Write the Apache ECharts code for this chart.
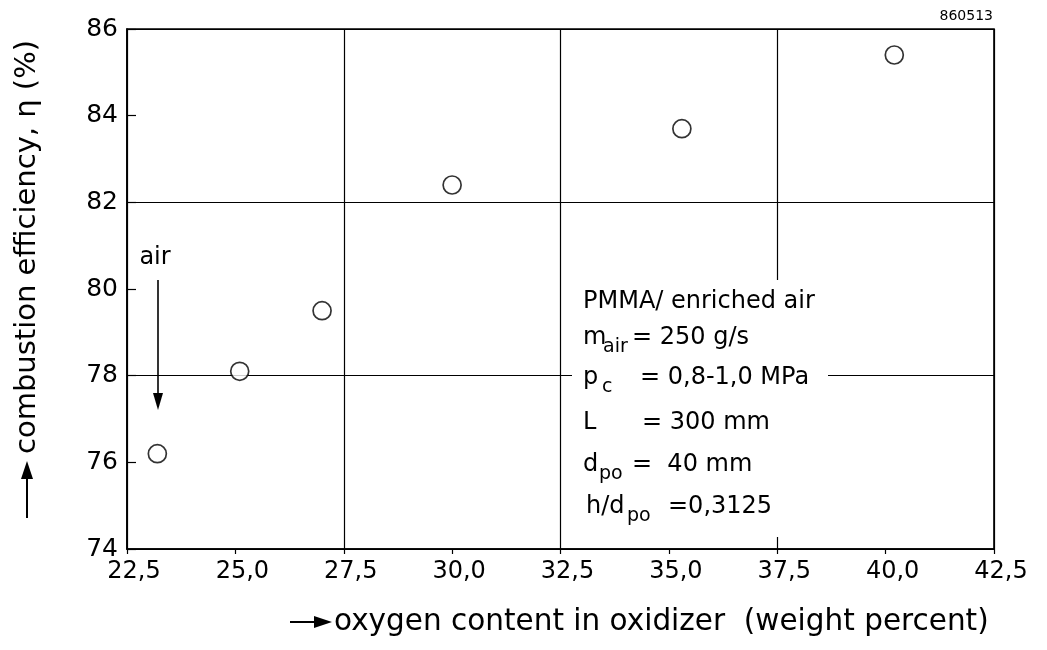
<!DOCTYPE html>
<html><head><meta charset="utf-8">
<script src="https://cdn.jsdelivr.net/npm/echarts@6/dist/echarts.min.js"></script>
<style>html,body{margin:0;padding:0;background:#fff}#c{width:1047px;height:650px}</style>
</head><body><div id="c"></div>
<script>
// ---- data ----
const oxygen = [23.2, 25.1, 27.0, 30.0, 35.3, 40.2];          // weight percent
const efficiency = [76.2, 78.1, 79.5, 82.4, 83.7, 85.4];      // %
const xMin = 22.5, xMax = 42.5, xStep = 2.5, xGridStep = 5;
const yMin = 74, yMax = 86, yStep = 2, yGridStep = 4;
const xTitle = 'oxygen content in oxidizer  (weight percent)';
const yTitle = 'combustion efficiency, \u03B7 (%)';
const figId = '860513';

const F = '"DejaVu Sans", sans-serif';
const chart = echarts.init(document.getElementById('c'), null, {renderer: 'canvas'});

function t(x, y, text, size, align) {
  return {type: 'text', x: x, y: y, z: 60,
    style: {text: text, font: size + 'px ' + F, fill: '#000',
      align: align || 'left', verticalAlign: 'middle'}};
}
const sub = 19, main = 24, dy = 9;
const boxText = [
  t(583, 302, 'PMMA/ enriched air', main),
  t(583, 338, 'm', main), t(603, 338 + dy, 'air', sub), t(632, 338, '= 250 g/s', main),
  t(583, 378, 'p', main), t(602, 378 + dy, 'c', sub), t(640, 378, '= 0,8-1,0 MPa', main),
  t(583, 423, 'L', main), t(642, 423, '= 300 mm', main),
  t(583, 465, 'd', main), t(599, 465 + dy, 'po', sub), t(632, 465, '=  40 mm', main),
  t(586, 507, 'h/d', main), t(627, 507 + dy, 'po', sub), t(668, 507, '=0,3125', main)
];

const option = {
  backgroundColor: '#fff',
  animation: false,
  grid: {left: 127, right: 53, top: 29, bottom: 101, show: true, borderColor: '#000', borderWidth: 1.6,
    containLabel: false, outerBoundsMode: 'none'},
  xAxis: [{
    type: 'value', min: xMin, max: xMax, interval: xStep,
    axisLine: {show: true, lineStyle: {color: '#000', width: 1.6}},
    axisTick: {show: true, inside: false, length: 5, lineStyle: {color: '#000', width: 1.2}},
    axisLabel: {color: '#000', fontSize: 24, fontFamily: F, margin: 11, padding: [0, 0, 0, 14],
      formatter: v => v.toFixed(1).replace('.', ',')},
    splitLine: {show: false}
  }, {
    type: 'value', min: xMin, max: xMax, interval: xGridStep, position: 'top',
    axisLine: {show: false}, axisTick: {show: false}, axisLabel: {show: false},
    splitLine: {show: true, lineStyle: {color: '#000', width: 1.2}}
  }],
  yAxis: [{
    type: 'value', min: yMin, max: yMax, interval: yStep,
    axisLine: {show: true, lineStyle: {color: '#000', width: 1.6}},
    axisTick: {show: true, inside: true, length: 9, lineStyle: {color: '#000', width: 1.2}},
    axisLabel: {color: '#000', fontSize: 25, fontFamily: F, margin: 9},
    splitLine: {show: false}
  }, {
    type: 'value', min: yMin, max: yMax, interval: yGridStep, position: 'right',
    axisLine: {show: false}, axisTick: {show: false}, axisLabel: {show: false},
    splitLine: {show: true, lineStyle: {color: '#000', width: 1.2}}
  }],
  series: [{
    type: 'scatter', xAxisIndex: 0, yAxisIndex: 0, z: 10,
    symbol: 'circle', symbolSize: 18,
    itemStyle: {color: '#fff', borderColor: '#000', borderWidth: 1.7},
    data: oxygen.map((x, i) => [x, efficiency[i]])
  }],
  graphic: [
    {type: 'rect', z: 50, shape: {x: 572, y: 280, width: 256, height: 257}, style: {fill: '#fff'}},
    ...boxText,
    // "air" annotation with down arrow
    t(155, 258, 'air', main, 'center'),
    {type: 'line', z: 60, shape: {x1: 158, y1: 280, x2: 158, y2: 398}, style: {stroke: '#000', lineWidth: 1.6}},
    {type: 'polygon', z: 60, shape: {points: [[153, 393], [163, 393], [158, 410]]}, style: {fill: '#000'}},
    // y-axis title with up arrow
    {type: 'text', z: 60, x: 27, y: 247, rotation: Math.PI / 2,
      style: {text: yTitle, font: '29px ' + F, fill: '#000', align: 'center', verticalAlign: 'middle'}},
    {type: 'line', z: 60, shape: {x1: 27, y1: 518, x2: 27, y2: 475}, style: {stroke: '#000', lineWidth: 2}},
    {type: 'polygon', z: 60, shape: {points: [[21, 479], [33, 479], [27, 461]]}, style: {fill: '#000'}},
    // x-axis title with right arrow
    {type: 'line', z: 60, shape: {x1: 290, y1: 622, x2: 318, y2: 622}, style: {stroke: '#000', lineWidth: 2}},
    {type: 'polygon', z: 60, shape: {points: [[314, 616], [314, 628], [332, 622]]}, style: {fill: '#000'}},
    {type: 'text', z: 60, x: 334, y: 622,
      style: {text: xTitle, font: '29.5px ' + F, fill: '#000', align: 'left', verticalAlign: 'middle'}},
    {type: 'text', z: 60, x: 993, y: 16,
      style: {text: figId, font: '14px ' + F, fill: '#000', align: 'right', verticalAlign: 'middle'}}
  ]
};
chart.setOption(option);
</script></body></html>
